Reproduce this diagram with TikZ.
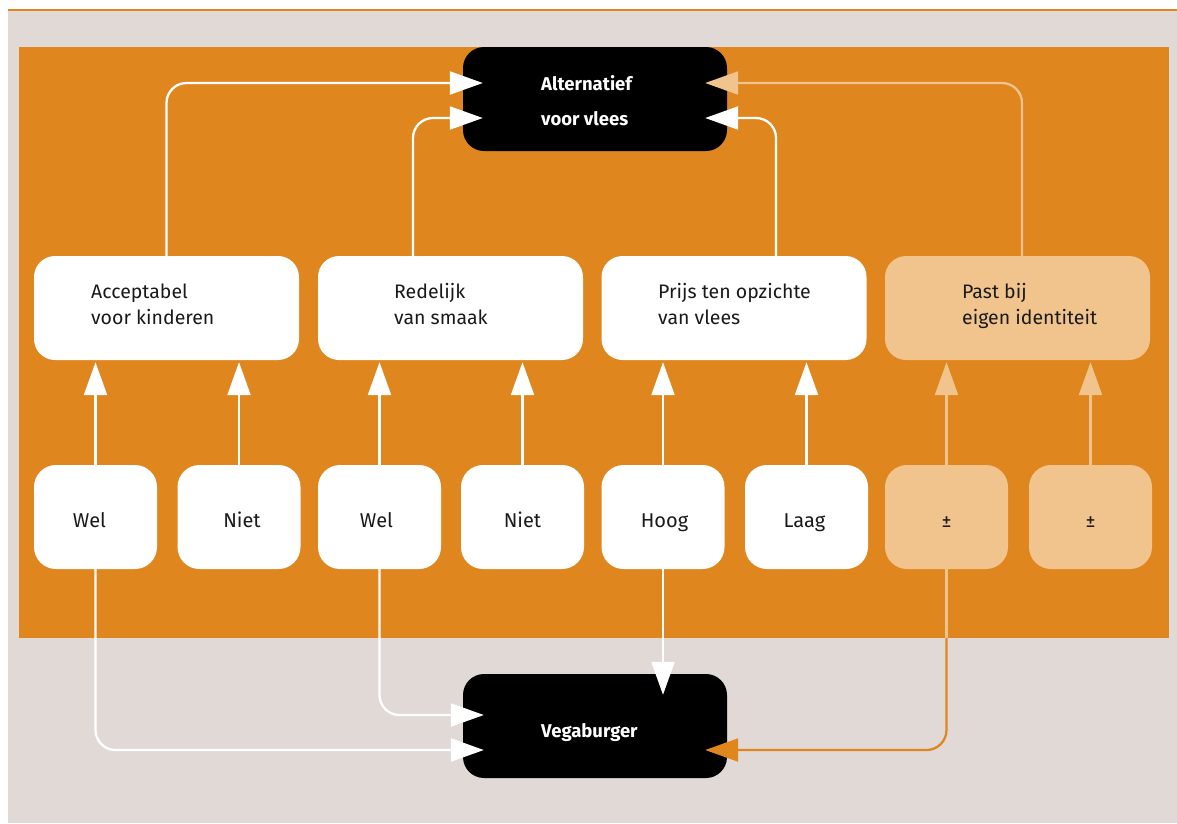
\documentclass[tikz,border=0pt]{standalone}
\usepackage{fontspec}
\setmainfont{Fira Sans}
\usetikzlibrary{arrows.meta}
\definecolor{org}{HTML}{E0861E}
\definecolor{lorg}{HTML}{F1C48D}
\definecolor{bgg}{HTML}{E0D9D6}
\definecolor{txt}{HTML}{1A1A1A}
\begin{document}
\begin{tikzpicture}[x=1pt,y=-1pt,
  midbox/.style={rounded corners=21pt, fill=white, inner sep=0pt, minimum width=265pt, minimum height=104pt},
  lowbox/.style={rounded corners=22pt, fill=white, inner sep=0pt, minimum width=123pt, minimum height=104pt, text=txt, font=\fontsize{20}{24}\selectfont, text height=21pt, text depth=0pt},
  blackbox/.style={rounded corners=21pt, fill=black, inner sep=0pt, minimum width=264pt, minimum height=104pt},
  lbl/.style={anchor=base west, inner sep=0pt, text=txt, font=\fontsize{19.5}{24}\selectfont},
  blbl/.style={anchor=base west, inner sep=0pt, text=white, font=\fontsize{18.5}{24}\selectfont\bfseries},
  conn/.style={draw=white, line width=2.3pt, rounded corners=20pt, -{Triangle[length=33pt,width=23pt]}},
  lconn/.style={conn, draw=lorg},
  upconn/.style={draw=white, line width=2.3pt, -{Triangle[length=33pt,width=23pt]}, shorten >=2pt},
]
\useasboundingbox (0,0) rectangle (1177,823);
\fill[bgg] (8,10) rectangle (1177,823);
\draw[org, line width=1.6pt] (8,10) -- (1177,10);
\fill[org] (19,47) rectangle (1169,638);

% top and bottom black boxes
\node[blackbox] (alt) at (595,99) {};
\node[blackbox] (veg) at (595,726) {};
\node[blbl] (altA) at (541,90) {Alternatief};
\node[blbl] (altB) at (541,125) {voor vlees};
\node[blbl] (vegT) at (541,737) {Vegaburger};

% middle boxes
\node[midbox] (b1) at (166.5,308) {};
\node[midbox] (b2) at (450.5,308) {};
\node[midbox] (b3) at (734,308) {};
\node[midbox, fill=lorg] (b4) at (1017.5,308) {};
\node[lbl] (b1a) at (91,298) {Acceptabel};
\node[lbl] (b1b) at (91,324) {voor kinderen};
\node[lbl] (b2a) at (394,298) {Redelijk};
\node[lbl] (b2b) at (394,324) {van smaak};
\node[lbl] (b3a) at (658,298) {Prijs ten opzichte};
\node[lbl] (b3b) at (658,324) {van vlees};
\node[lbl] (b4a) at (962,298) {Past bij};
\node[lbl] (b4b) at (962,324) {eigen identiteit};

% bottom row
\node[lowbox] (w1) at (95.5,517) {\hspace*{-12pt}Wel};
\node[lowbox] (n1) at (239,517) {\hspace*{6pt}Niet};
\node[lowbox] (w2) at (379.5,517) {\hspace*{-6pt}Wel};
\node[lowbox] (n2) at (522.5,517) {Niet};
\node[lowbox] (hg) at (663,517) {\hspace*{3pt}Hoog};
\node[lowbox] (lg) at (806.5,517) {\hspace*{-4pt}Laag};
\node[lowbox, fill=lorg] (p1) at (946.5,517) {±};
\node[lowbox, fill=lorg] (p2) at (1090.5,517) {±};

% up arrows into middle boxes
\draw[upconn] (w1.north) -- (w1.north |- b1.south);
\draw[upconn] (n1.north) -- (n1.north |- b1.south);
\draw[upconn] (w2.north) -- (w2.north |- b2.south);
\draw[upconn] (n2.north) -- (n2.north |- b2.south);
\draw[upconn] (hg.north) -- (hg.north |- b3.south);
\draw[upconn] (lg.north) -- (lg.north |- b3.south);
\draw[upconn, draw=lorg] (p1.north) -- (p1.north |- b4.south);
\draw[upconn, draw=lorg] (p2.north) -- (p2.north |- b4.south);

% arrows to Alternatief
\draw[conn, shorten >=-20pt] (b1.north) |- (alt.west |- 0,83);
\draw[conn, shorten >=-20pt] ([xshift=-37.5pt]b2.north) |- (alt.west |- 0,118);
\draw[conn, shorten >=-22pt] ([xshift=42pt]b3.north) |- (alt.east |- 0,118);
\draw[lconn, shorten >=-22pt] ([xshift=4.5pt]b4.north) |- (alt.east |- 0,83);

% arrows to Vegaburger
\draw[conn, shorten >=-21pt] (w1.south) |- (veg.west |- 0,750);
\draw[conn, shorten >=-21pt] (w2.south) |- (veg.west |- 0,715);
\draw[conn, shorten >=-21pt] (hg.south) -- (hg.south |- veg.north);
\coordinate (p1exit) at (p1.south |- 0,638);
\draw[lorg, line width=2.3pt] (p1.south) -- (p1exit);
\draw[conn, draw=org, shorten >=-22pt] (p1exit) |- (veg.east |- 0,750);
\end{tikzpicture}
\end{document}
